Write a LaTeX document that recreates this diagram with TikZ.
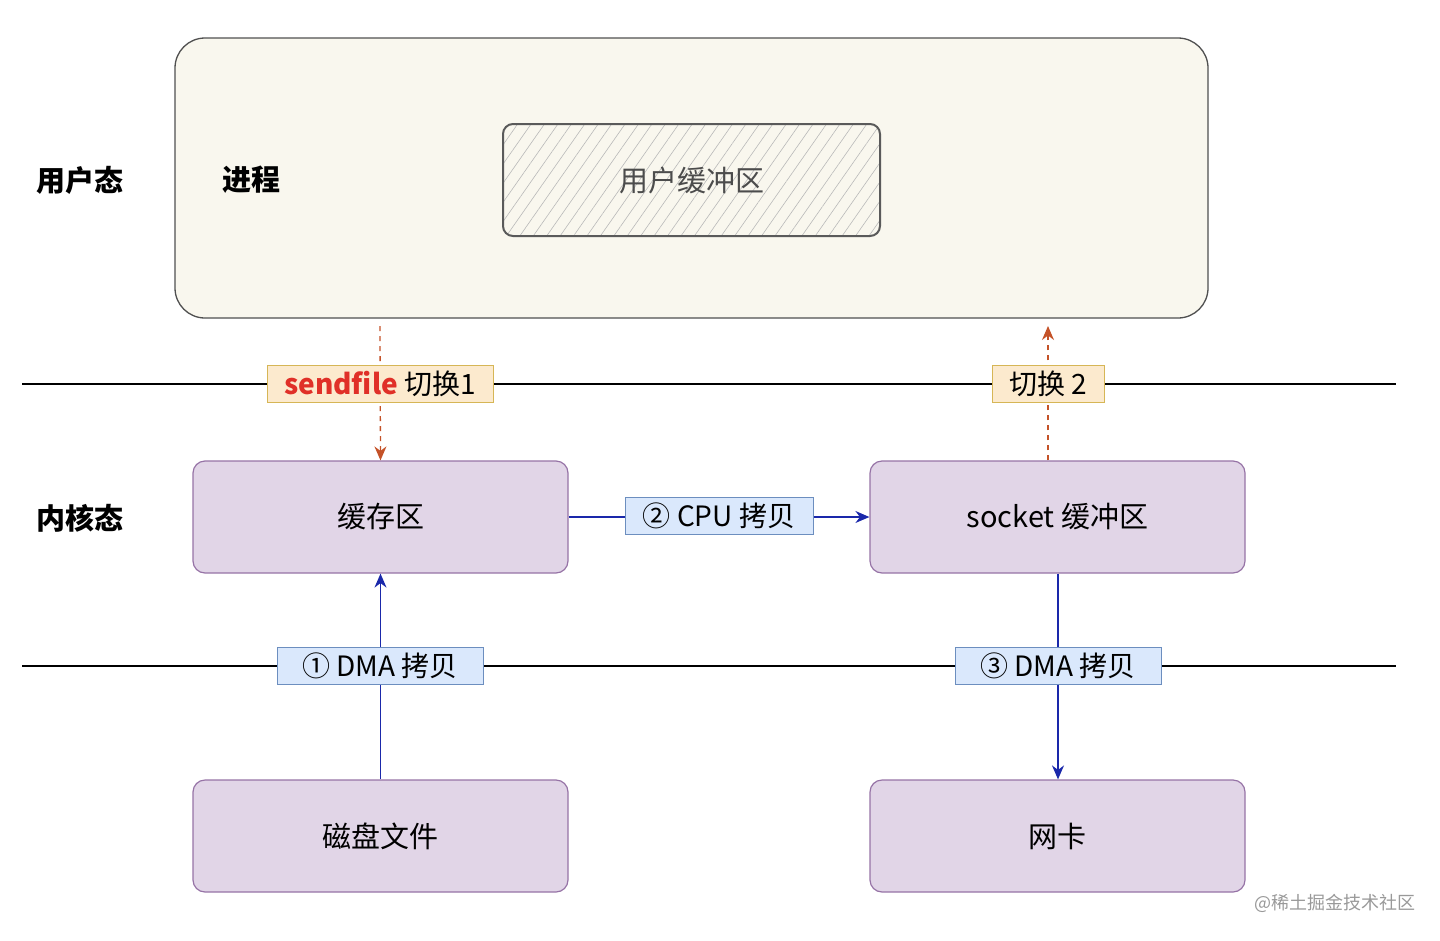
\documentclass[tikz,border=0pt]{standalone}
\usepackage{fontspec}
\setmainfont{Noto Sans CJK SC}
\usetikzlibrary{patterns.meta,arrows.meta}

\definecolor{procfill}{RGB}{249,247,238}
\definecolor{kernfill}{RGB}{225,213,231}
\definecolor{kerndraw}{RGB}{150,115,166}
\definecolor{tagfill}{RGB}{252,234,206}
\definecolor{tagdraw}{RGB}{214,182,86}
\definecolor{copyfill}{RGB}{218,232,252}
\definecolor{copydraw}{RGB}{108,142,191}
\definecolor{dmablue}{RGB}{26,40,170}
\definecolor{switchred}{RGB}{196,82,40}
\definecolor{sendred}{RGB}{224,48,40}

\tikzset{every picture/.style={line width=0.75pt}}
\tikzset{
  kernbox/.style={draw=kerndraw,fill=kernfill,line width=1.2pt,rounded corners=12pt,
    minimum width=375pt,minimum height=112pt,font=\fontsize{29}{34}\selectfont},
  tagbox/.style={draw=tagdraw,fill=tagfill,line width=1pt,minimum height=37pt,inner xsep=6pt,
    font=\fontsize{28}{32}\selectfont},
  copybox/.style={draw=copydraw,fill=copyfill,line width=1pt,minimum height=37pt,inner xsep=6pt,
    font=\fontsize{28}{32}\selectfont},
  sidelabel/.style={font=\fontsize{29}{34}\selectfont\bfseries},
  dmaarrow/.style={draw=dmablue,line width=1.3pt,-{Stealth[length=14pt,width=12pt]}},
  switcharrow/.style={draw=switchred,line width=1.3pt,dash pattern={on 5pt off 5pt},-{Stealth[length=14pt,width=12pt]}}
}

\begin{document}
\begin{tikzpicture}[x=1pt,y=1pt,yscale=-1]
\useasboundingbox (0,0) rectangle (1440,940);

%Shape: Process box
\node (proc) [draw={rgb,255:red,80;green,80;blue,80},fill=procfill,line width=1.3pt,rounded corners=30pt,
  minimum width=1033pt,minimum height=280pt] at (691.5,178) {};
%Shape: User buffer
\node (ubuf) [draw={rgb,255:red,90;green,90;blue,90},line width=2pt,rounded corners=10pt,
  pattern={Lines[angle=55,distance=11pt,line width=0.6pt]},pattern color=gray!55,
  minimum width=377pt,minimum height=112pt,text=black!70,font=\fontsize{29}{34}\selectfont] at (691.5,180) {用户缓冲区};

% Text Node
\node (ustate) [sidelabel] at (80,180) {用户态};
% Text Node
\node (procname) [sidelabel] at (251,180) {进程};
% Text Node
\node (kstate) [sidelabel] at (80,518) {内核态};

%Shape: Kernel boxes
\node (cache) [kernbox] at (380.5,517) {缓存区};
\node (sock) [kernbox] at (1057.5,517) {socket 缓冲区};
\node (disk) [kernbox] at (380.5,836) {磁盘文件};
\node (nic) [kernbox] at (1057.5,836) {网卡};

%Straight Lines: boundaries
\coordinate (ul) at (22,384);
\coordinate (ur) at (1396,384);
\coordinate (kl) at (22,666);
\coordinate (kr) at (1396,666);
\draw [line width=1.3pt] (ul) -- (ur);
\draw [line width=1.3pt] (kl) -- (kr);

%Arrows: switches
\coordinate (sw1) at (380,326);
\coordinate (sw2) at (1048,326);
\draw [switcharrow] (sw1) -- (cache.north);
\draw [switcharrow] (sock.north -| sw2) -- (sw2);

%Arrows: copies
\draw [dmaarrow] (disk.north) -- (cache.south);
\draw [dmaarrow] (cache.east) -- (sock.west);
\draw [dmaarrow] (sock.south -| 1058,0) -- (nic.north -| 1058,0);

% Text Node
\node (tag1) [tagbox,minimum width=226pt] at (380,384) {\textcolor{sendred}{\bfseries sendfile} 切换1};
% Text Node
\node (tag2) [tagbox,minimum width=112pt] at (1048,384) {切换 2};
% Text Node
\node (cpu) [copybox,minimum width=188pt] at (719,516) {② CPU 拷贝};
% Text Node
\node (dma1) [copybox,minimum width=206pt] at (380,666) {① DMA 拷贝};
% Text Node
\node (dma3) [copybox,minimum width=206pt] at (1058,666) {③ DMA 拷贝};

% Text Node
\node (mark) [text=black!40,font=\fontsize{18}{20}\selectfont] at (1335,903) {@稀土掘金技术社区};

\end{tikzpicture}
\end{document}
